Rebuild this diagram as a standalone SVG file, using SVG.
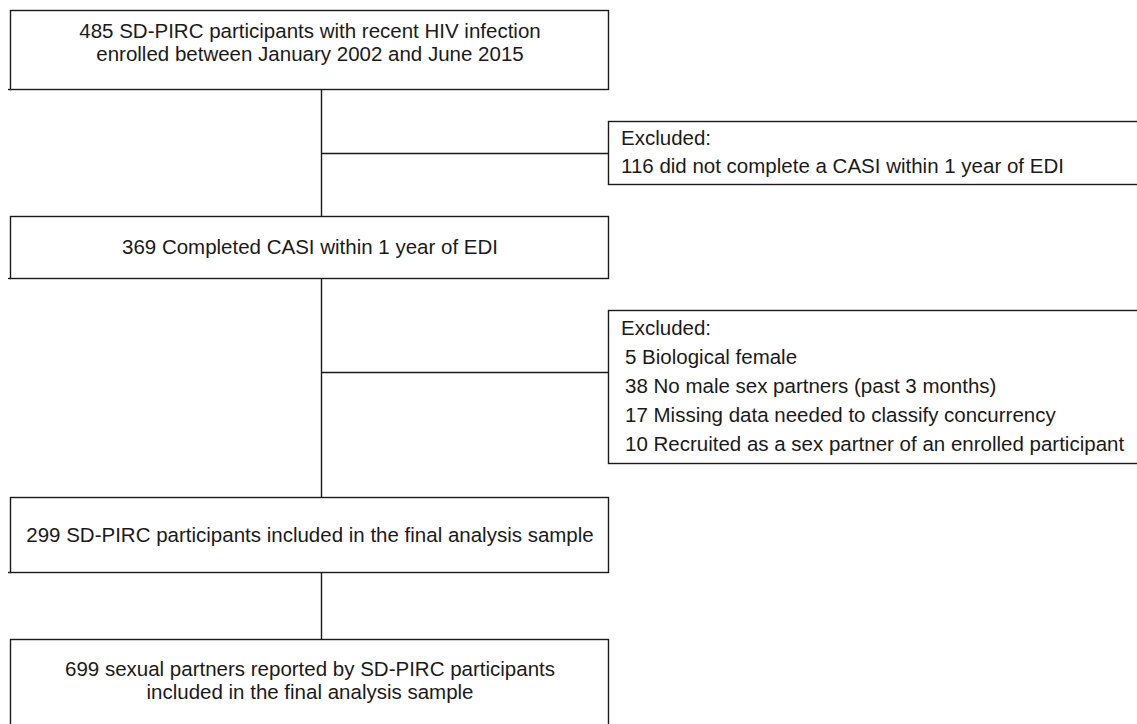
<svg xmlns="http://www.w3.org/2000/svg" width="1137" height="724" viewBox="0 0 1137 724">
<style>
.box{fill:#fff;stroke:#1a1a1a;stroke-width:1.4}
.ln{fill:none;stroke:#1a1a1a;stroke-width:1.4}
text{font-family:"Liberation Sans",Arial,sans-serif;font-size:20.5px;fill:#1a1a1a}
.c{text-anchor:middle}
</style>
<rect width="1137" height="724" fill="#fff"/>
<g id="connectors">
<path class="ln" d="M321.5 89.5V216.5M321.5 153.5H608.5M321.5 278.5V497.5M321.5 372.5H608.5M321.5 572.5V639.5"/>
</g>
<g id="n1">
<rect class="box" x="10.5" y="10.5" width="598" height="79"/>
<path class="ln" d="M8 89.5H11"/>
<text class="c" x="310" y="38">485 SD-PIRC participants with recent HIV infection</text>
<text class="c" x="310" y="61">enrolled between January 2002 and June 2015</text>
</g>
<g id="ex1">
<rect class="box" x="608.5" y="121.5" width="540" height="63"/>
<text x="621" y="145">Excluded:</text>
<text x="621" y="173">116 did not complete a CASI within 1 year of EDI</text>
</g>
<g id="n2">
<rect class="box" x="10.5" y="216.5" width="598" height="62"/>
<path class="ln" d="M8 278.5H11"/>
<text class="c" x="310" y="254">369 Completed CASI within 1 year of EDI</text>
</g>
<g id="ex2">
<rect class="box" x="608.5" y="310.5" width="540" height="153"/>
<text x="621" y="335">Excluded:</text>
<text x="625" y="364">5 Biological female</text>
<text x="625" y="393">38 No male sex partners (past 3 months)</text>
<text x="625" y="422">17 Missing data needed to classify concurrency</text>
<text x="625" y="451">10 Recruited as a sex partner of an enrolled participant</text>
</g>
<g id="n3">
<rect class="box" x="10.5" y="497.5" width="598" height="75"/>
<path class="ln" d="M8 572.5H11"/>
<text class="c" x="310" y="542">299 SD-PIRC participants included in the final analysis sample</text>
</g>
<g id="n4">
<rect class="box" x="10.5" y="639.5" width="598" height="100"/>
<text class="c" x="310" y="676">699 sexual partners reported by SD-PIRC participants</text>
<text class="c" x="310" y="699">included in the final analysis sample</text>
</g>
</svg>
